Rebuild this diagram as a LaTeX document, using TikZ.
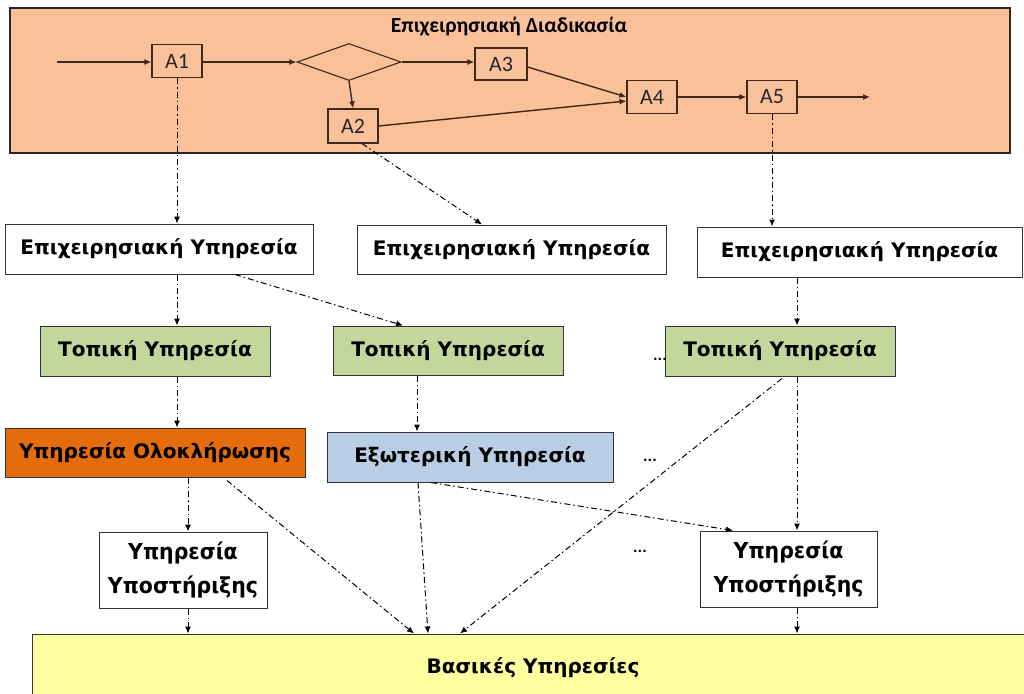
\documentclass[tikz,border=0pt]{standalone}
\usepackage{fontspec}
\setmainfont{DejaVu Sans}
\newfontfamily\calfont{Carlito}
\newfontfamily\condfont{DejaVu Sans}[FakeStretch=0.93]
\usetikzlibrary{shapes.geometric,arrows.meta,calc}
\definecolor{peach}{HTML}{F9C09A}
\definecolor{procline}{HTML}{3E2818}
\definecolor{darkorange}{HTML}{E46C0A}
\definecolor{greenbox}{HTML}{C3D69B}
\definecolor{bluebox}{HTML}{B9CDE5}
\definecolor{yellowbox}{HTML}{FFFF9F}
\tikzset{
  act/.style={draw=procline,line width=1.1pt,rectangle,minimum width=50pt,minimum height=33pt,inner sep=0pt,font=\calfont\fontsize{22}{22}\selectfont,text=black!85},
  flow/.style={draw=procline,line width=1.4pt,-{Latex[length=7pt,width=6pt]}},
  svc/.style={draw=black!80,line width=1pt,rectangle,inner sep=0pt,font=\bfseries\fontsize{20}{20}\selectfont},
  sup/.style={draw=black!80,line width=1pt,rectangle,inner sep=0pt,align=center,font=\condfont\bfseries\fontsize{22}{34}\selectfont},
  dd/.style={draw=black,line width=1pt,dash pattern=on 6pt off 3pt on 1.5pt off 3pt,-{Latex[length=7pt,width=6pt]}},
  dotstyle/.style={font=\bfseries\fontsize{12}{12}\selectfont,inner sep=0pt},
}
\begin{document}
\begin{tikzpicture}[x=1pt,y=-1pt]
\useasboundingbox (0,0) rectangle (1024,693);
% business process frame
\node[draw=black!85,line width=1.5pt,fill=peach,rectangle,minimum width=1000pt,minimum height=145pt,inner sep=0pt] (proc) at (510,80.5) {};
\node[font=\calfont\bfseries\fontsize{21.5}{21.5}\selectfont] (ptitle) at (509,27) {Επιχειρησιακή Διαδικασία};
\node[act] (A1) at (177,61) {A1};
\node[draw=procline,line width=1.1pt,diamond,minimum width=104pt,minimum height=37pt,inner sep=0pt] (D) at (349,62) {};
\node[act,minimum width=52pt,minimum height=32pt] (A3) at (501,64) {A3};
\node[act,minimum height=34pt] (A2) at (353,126) {A2};
\node[act] (A4) at (652,97) {A4};
\node[act] (A5) at (772,97) {A5};
\coordinate (in) at (57,62);
\coordinate (out) at (870,97);
\draw[flow] (in) -- (A1.west |- in);
\draw[flow] (A1.east |- D.west) -- (D.west);
\draw[flow] (D.east) -- (A3.west |- D.east);
\draw[flow] (D.south) -- (A2.north);
\draw[flow] ($(A3.east)+(0,3)$) -- ($(A4.west)+(0,0)$);
\draw[flow] (A2.east) -- ($(A4.west)+(0,4)$);
\draw[flow] (A4.east) -- (A5.west);
\draw[flow] (A5.east) -- (out);
% services
\node[svc,fill=white,minimum width=308pt,minimum height=50pt] (E1) at (159,249) {Επιχειρησιακή Υπηρεσία};
\node[svc,fill=white,minimum width=309pt,minimum height=49pt] (E2) at (511.5,249.5) {Επιχειρησιακή Υπηρεσία};
\node[svc,fill=white,minimum width=325pt,minimum height=50pt] (E3) at (859.5,252) {Επιχειρησιακή Υπηρεσία};
\node[svc,fill=greenbox,minimum width=230pt,minimum height=50pt] (G1) at (155,351) {Τοπική Υπηρεσία};
\node[svc,fill=greenbox,minimum width=230pt,minimum height=49pt] (G2) at (448,350.5) {Τοπική Υπηρεσία};
\node[svc,fill=greenbox,minimum width=230pt,minimum height=50pt] (G3) at (780,351) {Τοπική Υπηρεσία};
\node[svc,fill=darkorange,minimum width=300pt,minimum height=49pt] (O) at (155,452.5) {Υπηρεσία Ολοκλήρωσης};
\node[svc,fill=bluebox,minimum width=286pt,minimum height=50pt] (B) at (470,457) {Εξωτερική Υπηρεσία};
\node[sup,fill=white,minimum width=168pt,minimum height=76pt] (S1) at (183,570) {Υπηρεσία\\Υποστήριξης};
\node[sup,fill=white,minimum width=177pt,minimum height=76pt] (S2) at (788.5,569) {Υπηρεσία\\Υποστήριξης};
\node[draw=black!80,line width=1pt,fill=yellowbox,rectangle,minimum width=1000pt,minimum height=70pt,inner sep=0pt] (base) at (532,669) {};
\node[font=\bfseries\fontsize{20}{20}\selectfont] (basetxt) at (533,668) {Βασικές Υπηρεσίες};
% ellipses
\node[dotstyle] (dots1) at (660,359) {...};
\node[dotstyle] (dots2) at (650,460) {...};
\node[dotstyle] (dots3) at (640,551) {...};
% dash-dot connectors
\draw[dd] (A1.south) -- (A1.south |- E1.north);
\draw[dd] ($(A2.south)+(9,0)$) -- ($(E2.north)+(-29.5,0)$);
\draw[dd] (A5.south) -- (A5.south |- E3.north);
\draw[dd] (A1 |- E1.south) -- (A1 |- G1.north);
\draw[dd] ($(E1.south)+(76,0)$) -- ($(G2.north)+(-45,0)$);
\draw[dd] ($(E3.south)+(-62.5,0)$) -- ($(G3.north)+(17,0)$);
\draw[dd] (A1 |- G1.south) -- (A1 |- O.north);
\draw[dd] ($(G2.south)+(-31,0)$) -- ($(B.north)+(-53,0)$);
\draw[dd] ($(O.south)+(33,0)$) -- ($(S1.north)+(5,0)$);
\draw[dd] ($(S1.south)+(5,0)$) -- ($(base.north -| S1.south)+(5,0)$);
\draw[dd] ($(O.south)+(72,3)$) -- ($(base.north)+(-118,0)$);
\draw[dd] ($(B.south)+(-52,0)$) -- ($(base.north)+(-104,0)$);
\draw[dd] ($(B.south)+(-39,0)$) -- ($(S2.north)+(-55.5,0)$);
\draw[dd] ($(G3.south)+(2,2)$) -- ($(base.north)+(-72,0)$);
\draw[dd] ($(G3.south)+(17,0)$) -- ($(S2.north)+(8.5,0)$);
\draw[dd] ($(S2.south)+(8.5,0)$) -- ($(base.north -| S2.south)+(8.5,0)$);
\end{tikzpicture}
\end{document}
